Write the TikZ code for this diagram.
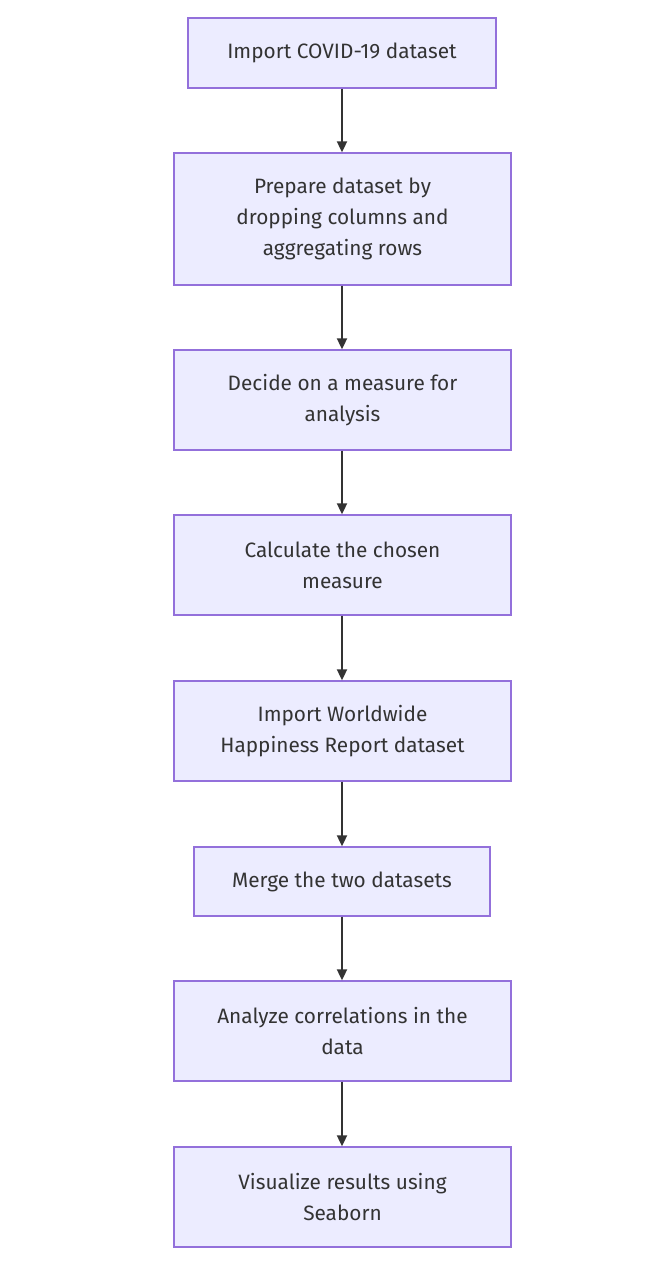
\documentclass[tikz,border=0pt]{standalone}
\usepackage{fontspec}
\setmainfont{Fira Sans}
\usetikzlibrary{arrows.meta}
\definecolor{boxfill}{HTML}{ECECFF}
\definecolor{boxline}{HTML}{9370DB}
\definecolor{arrowc}{HTML}{333333}
\begin{document}
\begin{tikzpicture}[x=1pt,y=-1pt,
  stepbox/.style={draw=boxline,fill=boxfill,line width=1.3pt,rectangle,inner sep=0pt,
    align=center,font=\fontsize{20.8}{31}\selectfont,text=arrowc},
  flow/.style={draw=arrowc,line width=1.8pt,-{Triangle[length=11pt,width=10pt]}}]
\useasboundingbox (0,0) rectangle (670,1262);
\node[stepbox,minimum width=308pt,minimum height=70pt] (a) at (342,53) {Import COVID-19 dataset};
\node[stepbox,minimum width=337pt,minimum height=132pt] (b) at (342.5,219) {Prepare dataset by\\dropping columns and\\aggregating rows};
\node[stepbox,minimum width=337pt,minimum height=100pt] (c) at (342.5,400) {Decide on a measure for\\analysis};
\node[stepbox,minimum width=337pt,minimum height=100pt] (d) at (342.5,565) {Calculate the chosen\\measure};
\node[stepbox,minimum width=337pt,minimum height=100pt] (e) at (342.5,731) {Import Worldwide\\Happiness Report dataset};
\node[stepbox,minimum width=296pt,minimum height=69pt] (f) at (342,881.5) {Merge the two datasets};
\node[stepbox,minimum width=337pt,minimum height=100pt] (g) at (342.5,1031) {Analyze correlations in the\\data};
\node[stepbox,minimum width=337pt,minimum height=100pt] (h) at (342.5,1197) {Visualize results using\\Seaborn};
\foreach \s/\t in {a/b,b/c,c/d,d/e,e/f,f/g,g/h}
  \draw[flow] (\s.south -| 342,0) -- (\t.north -| 342,0);
\end{tikzpicture}
\end{document}
